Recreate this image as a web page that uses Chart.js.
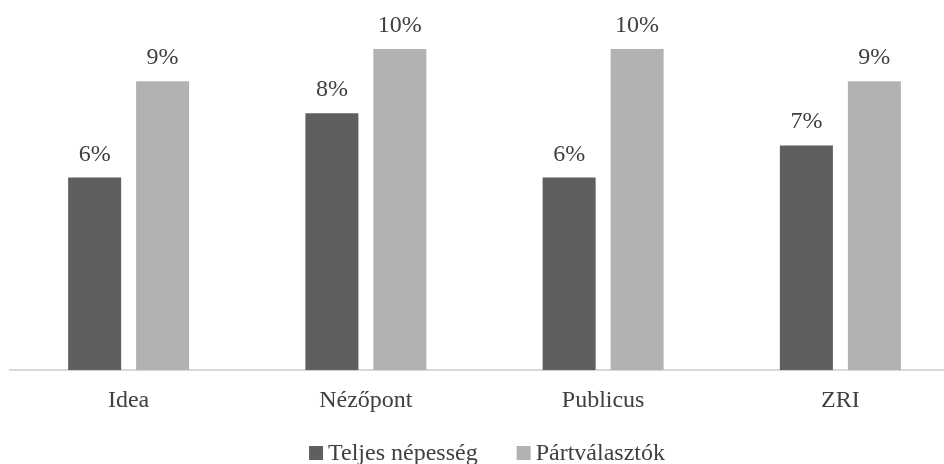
<!DOCTYPE html>
<html>
<head>
<meta charset="utf-8">
<script src="https://cdn.jsdelivr.net/npm/chart.js@4.4.1/dist/chart.umd.min.js"></script>
<style>
    html, body { margin: 0; padding: 0; background: #fff; overflow: hidden; }
    #wrap { width: 944px; height: 464px; overflow: hidden; }
    #box { width: 968px; height: 464px; position: relative; }
</style>
</head>
<body>
<div id="wrap"><div id="box"><canvas id="chart"></canvas></div></div>
<script>
const categories = ["Idea", "Nézőpont", "Publicus", "ZRI"];
const teljesNepesseg = [6, 8, 6, 7];
const partvalasztok = [9, 10, 10, 9];
const seriesNames = ["Teljes népesség", "Pártválasztók"];
const seriesColors = ["#5f5f5f", "#b2b2b2"];

const fontFamily = "'Liberation Serif', 'DejaVu Serif', serif";
const fontSize = 24;
const textColor = "#404040";

// value labels above the bars
const barLabels = {
    id: "barLabels",
    afterDatasetsDraw(chart) {
        const ctx = chart.ctx;
        ctx.save();
        ctx.font = fontSize + "px " + fontFamily;
        ctx.fillStyle = textColor;
        ctx.textAlign = "center";
        ctx.textBaseline = "alphabetic";
        chart.data.datasets.forEach((ds, i) => {
            chart.getDatasetMeta(i).data.forEach((bar, j) => {
                ctx.fillText(ds.data[j] + "%", bar.x, bar.y - 17);
            });
        });
        ctx.restore();
    }
};

// legend drawn by hand so the box/text spacing matches
const bottomLegend = {
    id: "bottomLegend",
    afterDraw(chart) {
        const ctx = chart.ctx;
        const box = 14, gapBox = 5, gapItem = 39;
        const baseline = 460, centerX = 487;
        ctx.save();
        ctx.font = fontSize + "px " + fontFamily;
        ctx.textBaseline = "alphabetic";
        ctx.textAlign = "left";
        const widths = seriesNames.map(n => ctx.measureText(n).width);
        let total = 0;
        widths.forEach((w, i) => { total += box + gapBox + w + (i > 0 ? gapItem : 0); });
        let x = centerX - total / 2;
        seriesNames.forEach((name, i) => {
            ctx.fillStyle = seriesColors[i];
            ctx.fillRect(x, baseline - box, box, box);
            x += box + gapBox;
            ctx.fillStyle = textColor;
            ctx.fillText(name, x, baseline);
            x += widths[i] + gapItem;
        });
        ctx.restore();
    }
};

const ctx = document.getElementById("chart").getContext("2d");
new Chart(ctx, {
    type: "bar",
    data: {
        labels: categories,
        datasets: [{
            label: seriesNames[0],
            data: teljesNepesseg,
            backgroundColor: seriesColors[0],
            categoryPercentage: 0.573,
            barPercentage: 0.78
        }, {
            label: seriesNames[1],
            data: partvalasztok,
            backgroundColor: seriesColors[1],
            categoryPercentage: 0.573,
            barPercentage: 0.78
        }]
    },
    options: {
        responsive: true,
        maintainAspectRatio: false,
        animation: false,
        layout: {
            padding: {left: 10, right: 9, top: 17, bottom: 33}
        },
        scales: {
            x: {
                grid: {display: false, drawTicks: false},
                border: {color: "#d9d9d9", width: 2},
                ticks: {
                    color: textColor,
                    font: {family: fontFamily, size: fontSize},
                    padding: 16
                }
            },
            y: {
                display: false,
                min: 0,
                max: 11
            }
        },
        plugins: {
            legend: {display: false},
            tooltip: {enabled: false}
        }
    },
    plugins: [barLabels, bottomLegend]
});
</script>
</body>
</html>
